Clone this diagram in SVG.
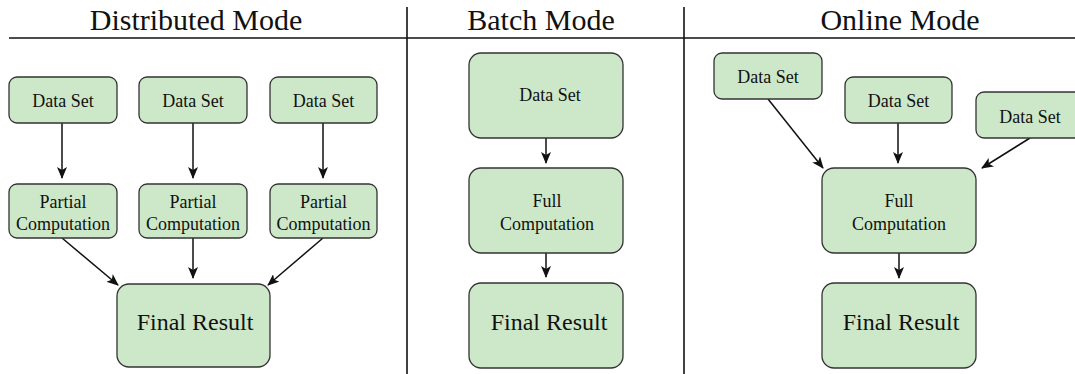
<svg xmlns="http://www.w3.org/2000/svg" width="1075" height="374" viewBox="0 0 1075 374">
<style>
.box{fill:#cde8c8;stroke:#333;stroke-width:1.3}
.t{font-family:"Liberation Serif","Times New Roman",serif;fill:#111;text-anchor:middle}
.s{font-size:18px}
.m{font-size:18px}
.f{font-size:24px}
.h{font-size:30px}
.c{stroke:#111;stroke-width:1.5;fill:none;marker-end:url(#ah)}
.rule{stroke:#111;stroke-width:1.6}
</style>
<defs>
<marker id="ah" viewBox="0 0 12 10" refX="11" refY="5" markerWidth="12" markerHeight="10" markerUnits="userSpaceOnUse" orient="auto">
<path d="M0,0 L12,5 L0,10 L3,5 Z" fill="#111"/>
</marker>
</defs>
<g id="frame">
<line class="rule" x1="9" y1="38" x2="1075" y2="38"/>
<line class="rule" x1="407" y1="7" x2="407" y2="374"/>
<line class="rule" x1="684" y1="7" x2="684" y2="374"/>
<text class="t h" x="196" y="30">Distributed Mode</text>
<text class="t h" x="541" y="30">Batch Mode</text>
<text class="t h" x="900" y="30">Online Mode</text>
</g>
<g id="connectors">
<line class="c" x1="62" y1="123" x2="62" y2="178"/>
<line class="c" x1="193" y1="123" x2="193" y2="178"/>
<line class="c" x1="323" y1="123" x2="323" y2="178"/>
<line class="c" x1="62" y1="238" x2="118" y2="285"/>
<line class="c" x1="193" y1="238" x2="193" y2="278"/>
<line class="c" x1="323" y1="238" x2="268" y2="285"/>
<line class="c" x1="546" y1="138" x2="546" y2="163"/>
<line class="c" x1="546" y1="253" x2="546" y2="277"/>
<line class="c" x1="768" y1="99" x2="823" y2="168"/>
<line class="c" x1="898" y1="123" x2="898" y2="163"/>
<line class="c" x1="1030" y1="138" x2="982" y2="168"/>
<line class="c" x1="899" y1="253" x2="899" y2="278"/>
</g>
<g id="d-ds1"><rect class="box" x="9" y="77" width="108" height="46" rx="8"/><text class="t s" x="63" y="107">Data Set</text></g>
<g id="d-ds2"><rect class="box" x="139" y="77" width="108" height="46" rx="8"/><text class="t s" x="193" y="107">Data Set</text></g>
<g id="d-ds3"><rect class="box" x="270" y="77" width="107" height="46" rx="8"/><text class="t s" x="323.5" y="107">Data Set</text></g>
<g id="d-pc1"><rect class="box" x="9" y="184" width="108" height="54" rx="8"/><text class="t s" x="63" y="208">Partial</text><text class="t s" x="63" y="230">Computation</text></g>
<g id="d-pc2"><rect class="box" x="139" y="184" width="108" height="54" rx="8"/><text class="t s" x="193" y="208">Partial</text><text class="t s" x="193" y="230">Computation</text></g>
<g id="d-pc3"><rect class="box" x="270" y="184" width="107" height="54" rx="8"/><text class="t s" x="323.5" y="208">Partial</text><text class="t s" x="323.5" y="230">Computation</text></g>
<g id="d-final"><rect class="box" x="117" y="284" width="153" height="83" rx="12"/><text class="t f" x="195" y="330">Final Result</text></g>
<g id="b-ds"><rect class="box" x="469" y="53" width="154" height="85" rx="12"/><text class="t m" x="550" y="101">Data Set</text></g>
<g id="b-full"><rect class="box" x="469" y="168" width="154" height="85" rx="12"/><text class="t m" x="547" y="207">Full</text><text class="t m" x="547" y="230">Computation</text></g>
<g id="b-final"><rect class="box" x="469" y="283" width="154" height="85" rx="12"/><text class="t f" x="549" y="330">Final Result</text></g>
<g id="o-ds1"><rect class="box" x="714" y="53" width="108" height="46" rx="8"/><text class="t s" x="768" y="83">Data Set</text></g>
<g id="o-ds2"><rect class="box" x="845" y="77" width="107" height="46" rx="8"/><text class="t s" x="898.5" y="107">Data Set</text></g>
<g id="o-ds3"><rect class="box" x="976" y="92" width="108" height="46" rx="8"/><text class="t s" x="1030" y="123">Data Set</text></g>
<g id="o-full"><rect class="box" x="822" y="168" width="154" height="85" rx="12"/><text class="t m" x="899" y="207">Full</text><text class="t m" x="899" y="230">Computation</text></g>
<g id="o-final"><rect class="box" x="822" y="283" width="154" height="85" rx="12"/><text class="t f" x="901" y="330">Final Result</text></g>
</svg>
